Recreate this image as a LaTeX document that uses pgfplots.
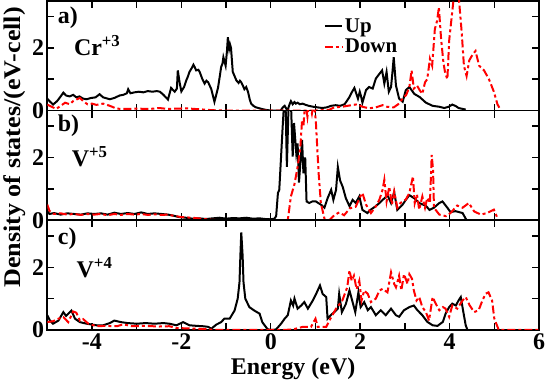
\documentclass[border=0pt]{standalone}
\usepackage{fontspec}
\setmainfont{Liberation Serif}
\usepackage{pgfplots}
\pgfplotsset{compat=1.18}
\definecolor{dred}{RGB}{255,0,0}
\newcommand{\bigf}{\fontsize{24}{26}\selectfont\bfseries}
\pgfplotsset{panel/.style={
  scale only axis, width=493pt, height=110pt,
  xmin=-5, xmax=6, ymin=0, ymax=3.5,
  xtick={-4,-2,0,2,4,6}, minor xtick={-3,-1,1,3,5},
  ytick={0,2}, minor ytick={1,3}, yticklabels={0,2},
  tick align=inside, major tick length=7pt, minor tick length=7pt,
  axis line style={line width=1.6pt},
  every tick/.style={line width=1.4pt, black},
  ticklabel style={font=\bigf},
  yticklabel style={anchor=east, inner sep=0pt, xshift=-3pt},
  xticklabel style={anchor=base, inner sep=0pt, yshift=-20pt},
  clip=true,
},
up/.style={black, line width=2pt, no marks},
down/.style={dred, line width=2pt, no marks, dash pattern=on 8pt off 3pt on 3pt off 3pt},
}
\begin{document}
\begin{tikzpicture}
% ---------------- panel a
\begin{axis}[panel, at={(0,0)}, anchor=north west, xticklabels={},
  legend style={at={(rel axis cs:0.556,0.875)}, anchor=north west, draw=none, fill=none,
    font=\fontsize{21}{22}\selectfont\bfseries, row sep=1pt},
  legend cell align=left]
\addplot[up] coordinates {(-5,0.38) (-4.95,0.3) (-4.87,0.19) (-4.78,0.3) (-4.7,0.45) (-4.64,0.57) (-4.58,0.48) (-4.5,0.45) (-4.42,0.5) (-4.35,0.42) (-4.28,0.45) (-4.2,0.38) (-4.12,0.36) (-4.02,0.4) (-3.92,0.42) (-3.83,0.52) (-3.75,0.42) (-3.6,0.36) (-3.5,0.4) (-3.38,0.48) (-3.3,0.5) (-3.22,0.55) (-3.19,0.68) (-3.14,0.55) (-3.05,0.58) (-2.95,0.6) (-2.85,0.58) (-2.75,0.62) (-2.65,0.6) (-2.55,0.62) (-2.48,0.6) (-2.4,0.5) (-2.3,0.35) (-2.23,0.72) (-2.15,0.6) (-2.1,0.7) (-2.08,1.28) (-2.04,0.9) (-2.0,0.61) (-1.94,0.75) (-1.89,0.96) (-1.85,1.1) (-1.82,1.23) (-1.77,1.35) (-1.73,1.46) (-1.7,1.38) (-1.67,1.28) (-1.62,1.3) (-1.59,1.23) (-1.53,1.0) (-1.48,0.86) (-1.44,0.95) (-1.4,0.9) (-1.33,0.68) (-1.26,0.28) (-1.22,0.5) (-1.18,0.73) (-1.14,1.1) (-1.11,1.39) (-1.08,1.5) (-1.06,1.7) (-1.01,1.43) (-0.98,1.9) (-0.96,2.34) (-0.93,1.97) (-0.91,2.1) (-0.89,2.0) (-0.85,1.23) (-0.81,1.1) (-0.77,0.96) (-0.72,0.88) (-0.69,0.95) (-0.66,0.9) (-0.62,0.78) (-0.59,0.68) (-0.55,0.75) (-0.51,0.6) (-0.47,0.35) (-0.44,0.22) (-0.38,0.14) (-0.33,0.1) (-0.2,0.05) (-0.11,0.02) (0,0) (0.22,0) (0.27,0.1) (0.31,0.15) (0.35,0.05) (0.38,0.02) (0.42,0.2) (0.45,0.3) (0.49,0.2) (0.53,0.27) (0.56,0.22) (0.6,0.25) (0.65,0.2) (0.71,0.22) (0.78,0.18) (0.85,0.15) (0.95,0.12) (1.05,0.1) (1.15,0.08) (1.25,0.1) (1.35,0.15) (1.45,0.17) (1.55,0.15) (1.65,0.2) (1.7,0.3) (1.76,0.43) (1.8,0.55) (1.87,0.72) (1.91,0.55) (1.95,0.38) (1.99,0.6) (2.02,0.45) (2.05,0.25) (2.1,0.5) (2.13,0.65) (2.2,0.75) (2.28,0.7) (2.35,1.02) (2.43,1.17) (2.49,1.28) (2.54,0.86) (2.59,1.23) (2.64,0.6) (2.69,0.75) (2.72,1.2) (2.75,1.7) (2.8,0.8) (2.87,0.38) (2.95,0.28) (3.02,0.65) (3.1,0.75) (3.21,0.53) (3.33,0.43) (3.47,0.25) (3.62,0.15) (3.77,0.12) (3.88,0.08) (3.98,0.12) (4.06,0.19) (4.14,0.14) (4.2,0.08) (4.36,0.03)};
\addlegendentry{Up}
\addplot[down] coordinates {(-5,0.19) (-4.9,0.12) (-4.8,0.05) (-4.7,0.15) (-4.6,0.25) (-4.5,0.2) (-4.42,0.3) (-4.35,0.35) (-4.27,0.4) (-4.18,0.28) (-4.1,0.2) (-4.0,0.22) (-3.9,0.18) (-3.75,0.22) (-3.6,0.15) (-3.45,0.06) (-3.3,0.05) (-3.0,0.06) (-2.7,0.05) (-2.5,0.08) (-2.3,0.05) (-2.1,0.06) (-1.9,0.07) (-1.7,0.05) (-1.5,0.03) (-1.3,0.01) (-1.0,0) (0,0) (0.5,0) (1.0,0) (1.3,0.02) (1.42,0.1) (1.6,0.12) (1.8,0.17) (1.94,0.2) (2.05,0.12) (2.2,0.07) (2.35,0.1) (2.5,0.17) (2.6,0.12) (2.75,0.1) (2.85,0.2) (2.95,0.38) (3.03,0.5) (3.1,0.75) (3.15,1.28) (3.2,0.7) (3.27,0.8) (3.33,0.65) (3.39,0.53) (3.45,0.9) (3.5,1.0) (3.56,1.65) (3.61,1.43) (3.67,2.6) (3.72,2.86) (3.76,3.29) (3.81,2.28) (3.86,1.55) (3.9,1.2) (3.95,1.0) (3.99,2.23) (4.05,3.03) (4.1,3.7) (4.15,3.8) (4.2,3.7) (4.27,2.5) (4.32,1.43) (4.38,1.1) (4.44,1.6) (4.52,1.8) (4.58,1.9) (4.66,1.43) (4.77,1.28) (4.88,1.0) (4.99,0.6) (5.07,0.2) (5.14,0.02)};
\addlegendentry{Down}
\node[anchor=base west, font=\bigf] at (axis cs:-4.84,2.76) {a)};
\node[anchor=base west, font=\bigf] at (axis cs:-4.48,1.74) {Cr\textsuperscript{+3}};
\end{axis}
% ---------------- panel b
\begin{axis}[panel, at={(0,-110pt)}, anchor=north west, xticklabels={}]
\addplot[up] coordinates {(-5,0.29) (-4.95,0.2) (-4.85,0.23) (-4.7,0.18) (-4.55,0.22) (-4.4,0.2) (-4.25,0.18) (-4.1,0.22) (-3.95,0.2) (-3.8,0.22) (-3.65,0.18) (-3.5,0.24) (-3.35,0.2) (-3.2,0.23) (-3.05,0.2) (-2.9,0.25) (-2.75,0.2) (-2.6,0.22) (-2.45,0.2) (-2.3,0.18) (-2.19,0.15) (-2.05,0.1) (-1.9,0.08) (-1.75,0.05) (-1.6,0.06) (-1.45,0.04) (-1.3,0.06) (-1.15,0.08) (-1.0,0.05) (-0.85,0.07) (-0.7,0.06) (-0.55,0.08) (-0.4,0.05) (-0.25,0.06) (-0.13,0.04) (0,0.03) (0.08,0.05) (0.12,0.13) (0.16,0.87) (0.19,0.97) (0.23,2.03) (0.27,3.09) (0.3,3.8) (0.33,3.8) (0.36,1.7) (0.4,3.8) (0.45,3.8) (0.49,2.03) (0.52,3.1) (0.57,2.14) (0.6,2.45) (0.63,1.2) (0.7,2.56) (0.73,1.5) (0.77,2.0) (0.8,0.6) (0.86,0.55) (0.93,0.6) (1.01,0.6) (1.06,0.55) (1.12,0.5) (1.2,0.4) (1.27,0.7) (1.35,0.97) (1.4,0.65) (1.46,0.97) (1.5,1.7) (1.55,1.27) (1.61,1.06) (1.68,0.7) (1.76,0.45) (1.83,0.65) (1.9,0.55) (1.98,0.76) (2.05,0.33) (2.16,0.23) (2.23,0.33) (2.3,0.4) (2.35,0.45) (2.43,0.55) (2.5,0.65) (2.56,0.72) (2.61,0.8) (2.69,0.55) (2.76,0.9) (2.83,0.33) (2.95,0.5) (3.02,0.65) (3.1,0.8) (3.21,0.7) (3.32,0.55) (3.47,0.46) (3.55,0.33) (3.65,0.4) (3.77,0.55) (3.84,0.6) (3.95,0.4) (4.02,0.26) (4.13,0.29) (4.29,0.23) (4.38,0.0)};
\addplot[down] coordinates {(-5,0.5) (-4.95,0.3) (-4.85,0.2) (-4.7,0.22) (-4.55,0.18) (-4.4,0.2) (-4.25,0.17) (-4.1,0.2) (-3.95,0.18) (-3.8,0.2) (-3.65,0.16) (-3.5,0.2) (-3.35,0.17) (-3.2,0.2) (-3.05,0.18) (-2.9,0.2) (-2.75,0.17) (-2.6,0.19) (-2.45,0.17) (-2.3,0.18) (-2.2,0.15) (-2.0,0.1) (-1.75,0.08) (-1.5,0.04) (-1.3,0.01) (-1.0,0) (0.38,0) (0.45,0.76) (0.53,1.15) (0.6,1.7) (0.66,2.3) (0.7,3.2) (0.73,3.0) (0.77,3.8) (0.82,3.3) (0.86,3.8) (0.92,3.4) (0.97,3.8) (1.01,3.1) (1.07,1.5) (1.12,0.55) (1.2,0.05) (1.31,0) (1.42,0.16) (1.53,0.25) (1.64,0.16) (1.77,0.38) (1.9,0.43) (2.0,0.75) (2.05,0.87) (2.13,0.5) (2.24,0.23) (2.35,0.44) (2.43,0.66) (2.5,0.97) (2.54,1.29) (2.59,0.6) (2.65,1.07) (2.71,0.5) (2.76,0.92) (2.83,0.4) (2.9,0.55) (3.02,0.66) (3.1,0.87) (3.18,1.4) (3.22,0.55) (3.27,0.82) (3.32,0.34) (3.39,0.76) (3.45,0.4) (3.5,0.71) (3.56,0.55) (3.6,2.08) (3.63,1.6) (3.65,0.4) (3.77,0.18) (3.92,0.13) (4.02,0.23) (4.17,0.47) (4.29,0.4) (4.43,0.55) (4.55,0.28) (4.7,0.18) (4.84,0.23) (4.99,0.34) (5.07,0.07)};
\node[anchor=base west, font=\bigf] at (axis cs:-4.84,2.83) {b)};
\node[anchor=base west, font=\bigf] at (axis cs:-4.53,1.71) {V\textsuperscript{+5}};
\end{axis}
% ---------------- panel c
\begin{axis}[panel, at={(0,-220pt)}, anchor=north west, xticklabels={-4,-2,0,2,4,6},
  xlabel={Energy (eV)}, xlabel style={font=\bigf, at={(axis description cs:0.5,0)}, anchor=base, inner sep=0pt, yshift=-45pt}]
\addplot[up] coordinates {(-5,0.47) (-4.94,0.3) (-4.87,0.2) (-4.75,0.3) (-4.64,0.57) (-4.58,0.45) (-4.53,0.52) (-4.46,0.62) (-4.38,0.36) (-4.27,0.25) (-4.12,0.2) (-3.9,0.15) (-3.75,0.15) (-3.6,0.22) (-3.5,0.3) (-3.35,0.25) (-3.2,0.22) (-3.0,0.2) (-2.8,0.22) (-2.6,0.2) (-2.4,0.22) (-2.27,0.2) (-2.11,0.15) (-1.96,0.25) (-1.82,0.15) (-1.65,0.13) (-1.52,0.12) (-1.4,0.1) (-1.33,0.04) (-1.22,0.17) (-1.11,0.25) (-1.04,0.36) (-0.92,0.36) (-0.81,0.62) (-0.74,1.0) (-0.7,1.52) (-0.68,2.37) (-0.66,3.11) (-0.63,2.37) (-0.61,1.52) (-0.57,1.0) (-0.48,0.73) (-0.37,0.62) (-0.25,0.52) (-0.19,0.25) (-0.07,0.02) (0.04,0) (0.12,0.02) (0.23,0.2) (0.31,0.36) (0.38,0.47) (0.45,0.94) (0.5,0.78) (0.53,1.0) (0.6,0.68) (0.68,0.78) (0.75,0.89) (0.83,0.68) (0.94,0.94) (1.03,1.2) (1.1,1.42) (1.16,1.15) (1.24,1.05) (1.27,0.36) (1.34,0.47) (1.42,0.57) (1.5,0.68) (1.53,1.15) (1.59,0.57) (1.68,0.83) (1.76,1.26) (1.83,0.89) (1.89,0.57) (1.96,1.2) (2.01,0.73) (2.09,0.89) (2.17,0.63) (2.24,0.73) (2.35,0.47) (2.46,0.63) (2.57,0.47) (2.69,0.68) (2.8,0.47) (2.87,0.42) (2.98,0.63) (3.1,0.73) (3.2,0.78) (3.28,0.63) (3.39,0.47) (3.5,0.26) (3.62,0.15) (3.73,0.13) (3.85,0.26) (3.91,0.52) (3.99,0.73) (4.06,0.84) (4.14,0.78) (4.2,0.94) (4.25,1.05) (4.3,0.63) (4.36,0.15) (4.4,0)};
\addplot[down] coordinates {(-5,0.25) (-4.87,0.28) (-4.75,0.36) (-4.64,0.41) (-4.53,0.25) (-4.42,0.59) (-4.35,0.55) (-4.27,0.3) (-4.2,0.35) (-4.08,0.2) (-3.9,0.12) (-3.7,0.13) (-3.44,0.12) (-3.3,0.18) (-3.1,0.12) (-2.8,0.13) (-2.5,0.11) (-2.27,0.12) (-2.1,0.06) (-1.82,0.05) (-1.5,0.03) (-1.2,0) (0.3,0) (0.5,0.02) (0.72,0.1) (0.9,0.1) (1.0,0.36) (1.05,0.1) (1.24,0.1) (1.31,0.3) (1.46,0.68) (1.6,0.94) (1.71,1.36) (1.76,1.9) (1.81,1.57) (1.86,1.73) (1.92,1.3) (1.98,1.57) (2.03,0.94) (2.09,1.26) (2.17,1.15) (2.24,0.89) (2.35,1.0) (2.43,1.26) (2.5,1.31) (2.61,1.2) (2.69,1.84) (2.76,1.47) (2.8,1.36) (2.87,1.73) (2.92,1.26) (2.98,1.78) (3.06,1.47) (3.1,1.78) (3.16,1.63) (3.2,1.26) (3.26,0.94) (3.32,1.05) (3.39,0.73) (3.47,0.57) (3.54,0.3) (3.62,1.05) (3.69,0.84) (3.77,0.63) (3.85,0.73) (3.91,0.68) (3.99,0.42) (4.06,0.78) (4.17,0.68) (4.29,0.94) (4.36,1.05) (4.45,0.78) (4.55,0.57) (4.65,0.63) (4.72,0.89) (4.8,1.15) (4.87,1.2) (4.95,0.94) (5.0,0.36) (5.1,0) (6,0)};
\node[anchor=base west, font=\bigf] at (axis cs:-4.84,2.73) {c)};
\node[anchor=base west, font=\bigf] at (axis cs:-4.42,1.68) {V\textsuperscript{+4}};
\end{axis}
\node[rotate=90, font=\bigf] at (-33pt,-147pt) {\scalebox{1.09}[1]{Density of states/(eV-cell)}};
\end{tikzpicture}
\end{document}
